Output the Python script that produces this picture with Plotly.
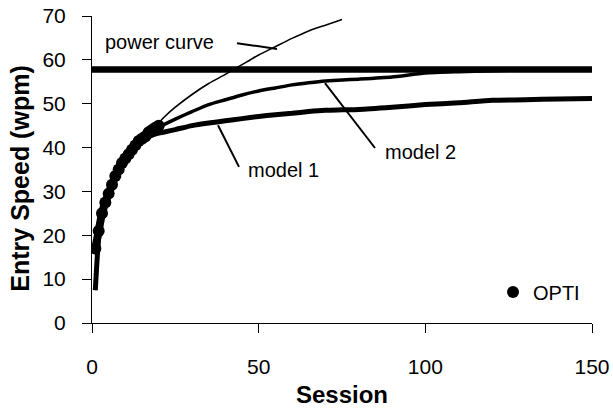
import plotly.graph_objects as go

# ---- data ----
sessions = [1, 2, 3, 4, 5, 6, 8, 10, 12, 15, 18, 20, 22, 25, 30, 35, 40, 45, 50, 55,
            60, 65, 70, 75, 80, 90, 100, 110, 120, 130, 140, 150]
model1 = [7.5, 19.5, 24.5, 27.5, 29.5, 31.5, 34.5, 37, 39, 41.5, 42.8, 43.3, 43.6, 44.1, 45, 45.6,
          46.1, 46.6, 47.1, 47.5, 47.8, 48.2, 48.5, 48.6, 48.7, 49.2, 49.8, 50.2, 50.8, 50.9, 51.1, 51.2]
model2 = [7.5, 19.5, 24.5, 27.5, 29.5, 31.5, 34.5, 37, 39, 41.5, 43.5, 44.6, 45.4, 46.5, 48.2, 49.8,
          50.9, 52, 52.9, 53.6, 54.3, 54.8, 55.2, 55.4, 55.6, 56.1, 57, 57.3, 57.5, 57.7, 57.8, 58]
power_sessions = [1, 2, 3, 4, 5, 6, 8, 10, 12, 15, 18, 20, 22, 25, 30, 35, 40, 45, 50, 55, 60, 65, 70, 75]
power = [7.5, 19.5, 24.5, 27.5, 29.5, 31.5, 34.5, 37, 39, 41.5, 44, 45.6, 47.2, 49.2, 52.1, 54.6,
         56.7, 58.9, 61.1, 63, 64.9, 66.6, 67.9, 69.2]
opti_sessions = list(range(1, 21))
opti = [17, 21, 25, 27.5, 29.5, 31.5, 33.5, 35, 36.5, 37.5, 38.5, 39.5, 40.5, 41.5, 42,
        42.5, 43.5, 44, 44.5, 45]
limit_x = [0, 150]
limit_y = [57.8, 57.8]

FONT = "Liberation Sans, Arial, sans-serif"

fig = go.Figure()
fig.add_trace(go.Scatter(x=limit_x, y=limit_y, mode="lines", line=dict(color="black", width=6.5),
                         showlegend=False, name="upper limit"))
fig.add_trace(go.Scatter(x=sessions, y=model1, mode="lines", line=dict(color="black", width=5, shape="spline", smoothing=0.6),
                         showlegend=False, name="model 1"))
fig.add_trace(go.Scatter(x=sessions, y=model2, mode="lines", line=dict(color="black", width=3.5, shape="spline", smoothing=0.6),
                         showlegend=False, name="model 2"))
fig.add_trace(go.Scatter(x=power_sessions, y=power, mode="lines", line=dict(color="black", width=1.6, shape="spline", smoothing=0.6),
                         showlegend=False, name="power curve"))
fig.add_trace(go.Scatter(x=opti_sessions, y=opti, mode="lines", line=dict(color="black", width=8, shape="spline", smoothing=0.6),
                         showlegend=False, name="OPTI band"))
fig.add_trace(go.Scatter(x=opti_sessions, y=opti, mode="markers",
                         marker=dict(color="black", size=12, symbol="circle"), name="OPTI"))

# leader lines
leaders = [((43.5, 63.8), (55.5, 62.5)),
           ((37.8, 45.1), (44.1, 35.6)),
           ((69.9, 54.7), (84.9, 39.9))]
for (x0, y0), (x1, y1) in leaders:
    fig.add_shape(type="line", x0=x0, y0=y0, x1=x1, y1=y1, xref="x", yref="y",
                  line=dict(color="black", width=2))

labels = [("power curve", 20.3, 64.1, "center"),
          ("upper limit", 150.3, 62.2, "right"),
          ("model 1", 46.2, 34.9, "left"),
          ("model 2", 87.3, 39.0, "left")]
for t, x, y, anc in labels:
    fig.add_annotation(text=t, x=x, y=y, xref="x", yref="y", xanchor=anc, yanchor="middle",
                       showarrow=False, font=dict(size=20, color="black", family=FONT))

# y-axis title placed as rotated text
fig.add_annotation(text="<b>Entry Speed (wpm)</b>", xref="paper", yref="paper", x=-0.144, y=0.47,
                   xanchor="center", yanchor="middle", textangle=-90, showarrow=False,
                   font=dict(size=25, color="black", family=FONT))

fig.update_layout(
    width=613, height=408,
    margin=dict(l=92, r=21, t=16, b=85, autoexpand=False),
    plot_bgcolor="white", paper_bgcolor="white",
    font=dict(family=FONT, size=20, color="black"),
    showlegend=True,
    legend=dict(x=0.802, y=0.101, xanchor="left", yanchor="middle", bgcolor="rgba(0,0,0,0)",
                font=dict(size=20, family=FONT, color="black")),
    xaxis=dict(range=[0, 150], tickvals=[0, 50, 100, 150], showline=True, linecolor="black", linewidth=1,
               ticks="outside", ticklen=9, tickcolor="black", showgrid=False, zeroline=False,
               automargin=False, ticklabelstandoff=16, tickfont=dict(size=21),
               title=dict(text="<b>Session</b>", font=dict(size=24, family=FONT), standoff=8)),
    yaxis=dict(range=[0, 70], tickvals=[0, 10, 20, 30, 40, 50, 60, 70], showline=True, linecolor="black", linewidth=1,
               ticks="outside", ticklen=9, tickcolor="black", showgrid=False, zeroline=False,
               automargin=False, ticklabelstandoff=12, tickfont=dict(size=21)),
)

fig.write_html("out.html")
